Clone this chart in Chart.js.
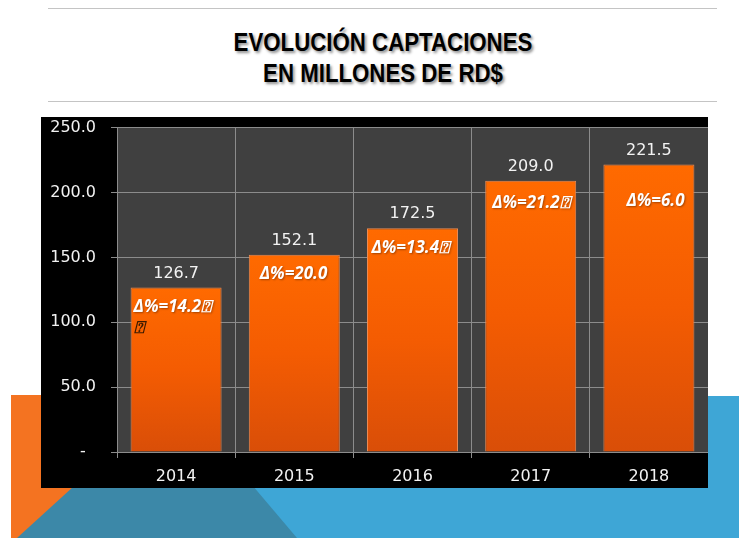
<!DOCTYPE html>
<html>
<head>
<meta charset="utf-8">
<script src="https://cdn.jsdelivr.net/npm/chart.js@4/dist/chart.umd.min.js"></script>
<style>
  html, body { margin:0; padding:0; background:#ffffff; }
  body { width:739px; height:538px; position:relative; overflow:hidden; font-family:"DejaVu Sans", sans-serif; }
  .hline { position:absolute; left:48px; width:669px; height:1px; background:#c4c4c4; }
  .title { position:absolute; left:0; width:766px; top:27px; text-align:center;
           font-family:"Liberation Sans",sans-serif;
           font-weight:bold; font-size:25px; line-height:31px; color:#000;
           transform: scaleX(0.89); transform-origin: 383px 0;
           text-shadow: 2px 2px 3px rgba(0,0,0,0.45); }
  .shape { position:absolute; }
  #orange { left:11px; top:395px; width:200px; height:143px; background:#f47321; }
  #blue { left:180px; top:396px; width:559px; height:142px; background:#3ea6d6; }
  #teal { left:0; top:0; width:739px; height:538px; background:#3c88a8;
          clip-path: polygon(175px 394px, 297px 538px, 17px 538px); }
  #box { position:absolute; left:41px; top:117px; width:667px; height:371px; background:#000; overflow:hidden; }
  #c { position:absolute; left:0; top:-14px; }
</style>
</head>
<body>
<div class="hline" style="top:8px"></div>
<div class="hline" style="top:101px"></div>
<div class="title">EVOLUCIÓN CAPTACIONES<br>EN MILLONES DE RD$</div>
<div class="shape" id="orange"></div>
<div class="shape" id="blue"></div>
<div class="shape" id="teal"></div>
<div id="box"><canvas id="c" width="667" height="385"></canvas></div>
<script>
// ---- data ----
const categories = ['2014', '2015', '2016', '2017', '2018'];
const captaciones = [126.7, 152.1, 172.5, 209.0, 221.5];
const deltaLabels = ['Δ%=14.2⍰', 'Δ%=20.0', 'Δ%=13.4⍰', 'Δ%=21.2⍰', 'Δ%=6.0'];
const deltaExtraLine = ['⍰', '', '', '', ''];
const yTickValues = [0, 50, 100, 150, 200, 250];

// ---- label placement (pixel offsets from each bar's top-centre) ----
const deltaOffsets = [[-42.5, 19.5], [-34.5, 20], [-41, 20], [-38.5, 22], [-22.5, 37]];
const extraLineGap = 21;

const plotBg = {
  id: 'plotBg',
  beforeDraw(chart) {
    const { ctx, chartArea: a } = chart;
    ctx.save();
    ctx.fillStyle = '#404040';
    ctx.fillRect(a.left, a.top, a.right - a.left, a.bottom - a.top);
    ctx.restore();
  }
};

const barLabels = {
  id: 'barLabels',
  afterDatasetsDraw(chart) {
    const { ctx } = chart;
    const meta = chart.getDatasetMeta(0);
    ctx.save();
    meta.data.forEach((bar, i) => {
      ctx.font = '16px "DejaVu Sans"';
      ctx.fillStyle = '#f2f2f2';
      ctx.textAlign = 'center';
      ctx.textBaseline = 'middle';
      ctx.fillText(captaciones[i].toFixed(1), bar.x, bar.y - 14);
      const [dx, dy] = deltaOffsets[i];
      ctx.font = 'italic bold 17px "Open Sans"';
      ctx.textAlign = 'left';
      ctx.shadowColor = 'rgba(0,0,0,0.35)';
      ctx.shadowOffsetX = 1; ctx.shadowOffsetY = 1; ctx.shadowBlur = 2;
      ctx.fillStyle = '#ffffff';
      ctx.fillText(deltaLabels[i], bar.x + dx, bar.y + dy);
      if (deltaExtraLine[i]) {
        ctx.shadowColor = 'transparent';
        ctx.fillStyle = '#3a1a00';
        ctx.fillText(deltaExtraLine[i], bar.x + dx, bar.y + dy + extraLineGap);
      }
      ctx.shadowColor = 'transparent';
    });
    ctx.restore();
  }
};

function barGradient(context) {
  const chart = context.chart;
  const area = chart.chartArea;
  if (!area) return '#ff6600';
  const yScale = chart.scales.y;
  const top = yScale.getPixelForValue(context.raw);
  const bottom = yScale.getPixelForValue(0);
  const g = chart.ctx.createLinearGradient(0, top, 0, bottom);
  g.addColorStop(0, '#ff6a00');
  g.addColorStop(0.5, '#f45c02');
  g.addColorStop(1, '#d94e08');
  return g;
}

new Chart(document.getElementById('c'), {
  type: 'bar',
  data: {
    labels: categories,
    datasets: [{
      data: captaciones,
      backgroundColor: barGradient,
      borderColor: '#e98a55',
      borderWidth: 1,
      barPercentage: 0.77,
      categoryPercentage: 1.0
    }]
  },
  options: {
    responsive: false,
    animation: false,
    devicePixelRatio: 1,
    layout: { padding: { top: 0, right: 0, bottom: 0, left: 0 } },
    plugins: { legend: { display: false }, tooltip: { enabled: false }, title: { display: false } },
    scales: {
      x: {
        grid: { display: true, offset: true, color: '#8c8c8c', lineWidth: 1, tickLength: 6, drawTicks: true },
        border: { display: true, color: '#8c8c8c' },
        ticks: { color: '#f2f2f2', font: { family: 'DejaVu Sans', size: 16 }, padding: 9 },
        afterFit(scale) { scale.height = 36; }
      },
      y: {
        min: 0, max: 250,
        afterBuildTicks(scale) { scale.ticks = yTickValues.map(v => ({ value: v })); },
        grid: { color: '#8c8c8c', lineWidth: 1, tickLength: 6 },
        border: { display: true, color: '#8c8c8c' },
        ticks: {
          color: '#f2f2f2', font: { family: 'DejaVu Sans', size: 16 }, padding: 15,
          callback: (v) => v === 0 ? '-  ' : v.toFixed(1)
        },
        afterFit(scale) { scale.width = 76; }
      }
    }
  },
  plugins: [plotBg, barLabels]
});
</script>
</body>
</html>
